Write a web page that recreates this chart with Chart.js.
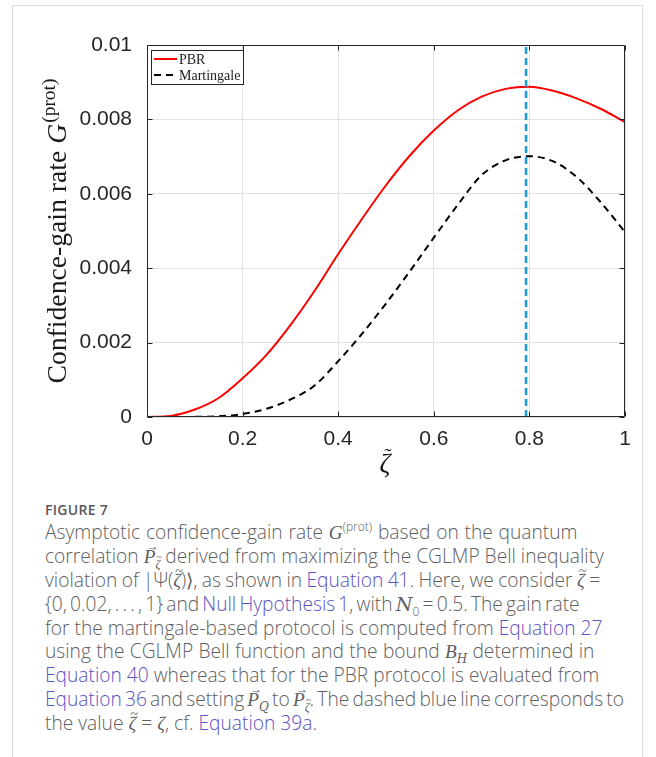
<!DOCTYPE html>
<html>
<head>
<meta charset="utf-8">
<script src="https://cdn.jsdelivr.net/npm/chart.js@4.4.1/dist/chart.umd.min.js"></script>
<style>
  html,body{margin:0;padding:0;background:#fff;width:656px;height:757px;overflow:hidden;}
  #frame{position:absolute;left:12px;top:5px;width:631px;height:800px;border:1px solid #dcdcdc;box-sizing:border-box;}
  #c{position:absolute;left:0;top:0;}
  #cap{position:absolute;left:45px;top:500px;font-family:"Open Sans",sans-serif;color:#606060;}
  #fig{font-size:14px;font-weight:600;letter-spacing:0.3px;color:#585858;line-height:20px;height:20px;margin-top:0px;}
  .ln{font-size:19.2px;font-weight:300;line-height:23.9px;height:23.9px;white-space:nowrap;}
  .ln a{color:#5b52c2;text-decoration:none;}
  .m{font-family:"Liberation Serif",serif;font-style:italic;}
  .ln sup{font-size:12px;line-height:0;vertical-align:8px;}
  .ln sub{font-size:12px;line-height:0;vertical-align:-5px;}
  .vec,.tl{position:relative;display:inline-block;}
  .vec::after{content:"\2192";position:absolute;left:3px;top:-10px;font-size:12px;font-style:normal;}
  .tl::after{content:"~";position:absolute;left:2px;top:-9px;font-size:14px;font-style:normal;}
  sub .tl::after{left:1px;top:-7px;font-size:10px;}
  .cal{font-family:"DejaVu Serif",serif;font-style:italic;}
</style>
</head>
<body>
<div id="frame"></div>
<canvas id="c" width="656" height="500"></canvas>
<div id="cap">
  <div id="fig">FIGURE 7</div>
  <div class="ln" style="word-spacing:0.8px">Asymptotic confidence-gain rate <span class="m">G</span><sup>(prot)</sup> based on the quantum</div>
  <div class="ln">correlation <span class="m vec">P</span><sub><span class="m tl">ζ</span></sub> derived from maximizing the CGLMP Bell inequality</div>
  <div class="ln" style="word-spacing:-0.6px">violation of |Ψ(<span class="m tl">ζ</span>)⟩, as shown in <a>Equation 41</a>. Here, we consider <span class="m tl">ζ</span> =</div>
  <div class="ln" style="word-spacing:-1.8px">{0, 0.02, . . . , 1} and <a>Null Hypothesis 1</a>, with <span class="cal">N</span><sub>0</sub> = 0.5. The gain rate</div>
  <div class="ln">for the martingale-based protocol is computed from <a>Equation 27</a></div>
  <div class="ln" style="word-spacing:0.3px">using the CGLMP Bell function and the bound <span class="m">B</span><sub><span class="cal">H</span></sub> determined in</div>
  <div class="ln"><a>Equation 40</a> whereas that for the PBR protocol is evaluated from</div>
  <div class="ln" style="word-spacing:-1.8px"><a>Equation 36</a> and setting <span class="m vec">P</span><sub><span class="cal">Q</span></sub> to <span class="m vec">P</span><sub><span class="m tl">ζ</span></sub>. The dashed blue line corresponds to</div>
  <div class="ln">the value <span class="m tl">ζ</span> = <span class="m">ζ</span>, cf. <a>Equation 39a</a>.</div>
</div>
<script>
// ---- data ----
const zeta = [0, 0.05, 0.1, 0.15, 0.2, 0.25, 0.3, 0.35, 0.4, 0.45, 0.5, 0.55, 0.6, 0.65, 0.7, 0.75, 0.8, 0.85, 0.9, 0.95, 1];
const pbrRate = [0, 0.00003, 0.0002, 0.00051, 0.00104, 0.00167, 0.00247, 0.00338, 0.00438, 0.00533, 0.00623, 0.00703, 0.0077, 0.00824, 0.00861, 0.00882, 0.00888, 0.00877, 0.00856, 0.00828, 0.00793];
const martingaleRate = [0, 0, 0.000005, 0.00002, 0.00008, 0.00022, 0.00047, 0.00084, 0.0015, 0.00224, 0.00305, 0.00392, 0.00482, 0.0057, 0.0065, 0.0069, 0.00701, 0.00687, 0.00644, 0.00576, 0.00497];
const zetaTrue = 0.793;
const markerRange = [0, 0.01];
const seriesNames = ["PBR", "Martingale"];
const xTickLabels = ["0", "0.2", "0.4", "0.6", "0.8", "1"];
const yTickLabels = ["0", "0.002", "0.004", "0.006", "0.008", "0.01"];

const toPts = (xs, ys) => xs.map((x, i) => ({x: x, y: ys[i]}));

const boxPlugin = {
  id: 'matlabBox',
  afterDatasetsDraw(chart) {
    const {ctx, chartArea: a, scales: {x, y}} = chart;
    ctx.save();
    ctx.strokeStyle = '#262626';
    ctx.lineWidth = 1;
    const L = Math.round(a.left) + 0.5, R = Math.round(a.right) - 0.5, T = Math.round(a.top) + 0.5, B = Math.round(a.bottom) - 0.5;
    ctx.beginPath();
    ctx.rect(L, T, R - L, B - T);
    const tl = 5;
    x.ticks.forEach(t => {
      const px = Math.round(x.getPixelForValue(t.value)) + 0.5;
      ctx.moveTo(px, B); ctx.lineTo(px, B - tl);
      ctx.moveTo(px, T); ctx.lineTo(px, T + tl);
    });
    y.ticks.forEach(t => {
      const py = Math.round(y.getPixelForValue(t.value)) + 0.5;
      ctx.moveTo(L, py); ctx.lineTo(L + tl, py);
      ctx.moveTo(R, py); ctx.lineTo(R - tl, py);
    });
    ctx.stroke();
    ctx.restore();
  },
  afterDraw(chart) {
    const {ctx, chartArea: a} = chart;
    ctx.save();
    // legend
    const lx = 151.5, ly = 50.5, lw = 92, lh = 34;
    ctx.fillStyle = '#fff';
    ctx.fillRect(lx, ly, lw, lh);
    ctx.strokeStyle = '#262626';
    ctx.lineWidth = 1;
    ctx.strokeRect(lx, ly, lw, lh);
    const entries = chart.data.datasets.filter(d => seriesNames.includes(d.label));
    entries.forEach((d, i) => {
      const yy = 59 + i * 16;
      ctx.beginPath();
      ctx.strokeStyle = d.borderColor;
      ctx.lineWidth = d.borderWidth;
      ctx.setLineDash(d.borderDash || []);
      ctx.moveTo(154, yy); ctx.lineTo(177, yy);
      ctx.stroke();
      ctx.setLineDash([]);
      ctx.fillStyle = '#222';
      ctx.font = '14px "Liberation Serif", serif';
      ctx.textBaseline = 'alphabetic';
      ctx.textAlign = 'left';
      ctx.fillText(d.label, 179, yy + 4.5);
    });
    // y title
    const cy = (a.top + a.bottom) / 2;
    ctx.translate(66, cy);
    ctx.rotate(-Math.PI / 2);
    const f1 = '27px "Liberation Serif", serif', f2 = 'italic 27px "Liberation Serif", serif', f3 = '19px "Liberation Serif", serif';
    const s1 = 'Confidence-gain rate ', s2 = 'G', s3 = '(prot)';
    ctx.font = f1; const w1 = ctx.measureText(s1).width;
    ctx.font = f2; const w2 = ctx.measureText(s2).width;
    ctx.font = f3; const w3 = ctx.measureText(s3).width;
    const total = w1 + w2 + 1 + w3;
    const target = 305;
    ctx.scale(target / total, 1);
    let sx = -total / 2;
    ctx.fillStyle = '#1a1a1a';
    ctx.textBaseline = 'alphabetic';
    ctx.textAlign = 'left';
    ctx.font = f1; ctx.fillText(s1, sx, 0); sx += w1;
    ctx.font = f2; ctx.fillText(s2, sx, 0); sx += w2 + 1;
    ctx.font = f3; ctx.fillText(s3, sx, -11);
    ctx.restore();
    // x title
    ctx.save();
    ctx.fillStyle = '#1a1a1a';
    ctx.font = 'italic 27px "Liberation Serif", serif';
    ctx.textAlign = 'center';
    ctx.textBaseline = 'alphabetic';
    ctx.fillText('ζ', 385, 472);
    ctx.font = '22px "Liberation Serif", serif';
    ctx.fillText('˜', 388, 463);
    ctx.restore();
  }
};

new Chart(document.getElementById('c'), {
  type: 'line',
  data: {
    datasets: [
      {label: 'zeta', data: toPts([zetaTrue, zetaTrue], markerRange), borderColor: '#1e9cd6', borderWidth: 2.6, borderDash: [7, 4], pointRadius: 0, order: 0},
      {label: seriesNames[0], data: toPts(zeta, pbrRate), borderColor: '#ff0000', borderWidth: 2, pointRadius: 0, cubicInterpolationMode: 'monotone', order: 1},
      {label: seriesNames[1], data: toPts(zeta, martingaleRate), borderColor: '#000000', borderWidth: 2, borderDash: [7, 5], pointRadius: 0, cubicInterpolationMode: 'monotone', order: 2}
    ]
  },
  options: {
    responsive: false,
    animation: false,
    devicePixelRatio: 1,
    layout: {padding: {top: 45, right: 31, left: 0, bottom: 0}},
    plugins: {legend: {display: false}, tooltip: {enabled: false}},
    scales: {
      x: {
        type: 'linear', min: 0, max: 1,
        afterFit: s => { s.height = 83; },
        grid: {color: '#e2e2e2', drawTicks: false},
        border: {display: false},
        ticks: {stepSize: 0.2, padding: 10, color: '#262626', font: {family: '"Liberation Sans", Arial, sans-serif', size: 21},
                callback: (v, i) => xTickLabels[i], maxRotation: 0}
      },
      y: {
        type: 'linear', min: 0, max: 0.01,
        afterFit: s => { s.width = 147; },
        grid: {color: '#e2e2e2', drawTicks: false},
        border: {display: false},
        ticks: {stepSize: 0.002, padding: 15, color: '#262626', font: {family: '"Liberation Sans", Arial, sans-serif', size: 21},
                callback: (v, i) => yTickLabels[i]}
      }
    }
  },
  plugins: [boxPlugin]
});
</script>
</body>
</html>
